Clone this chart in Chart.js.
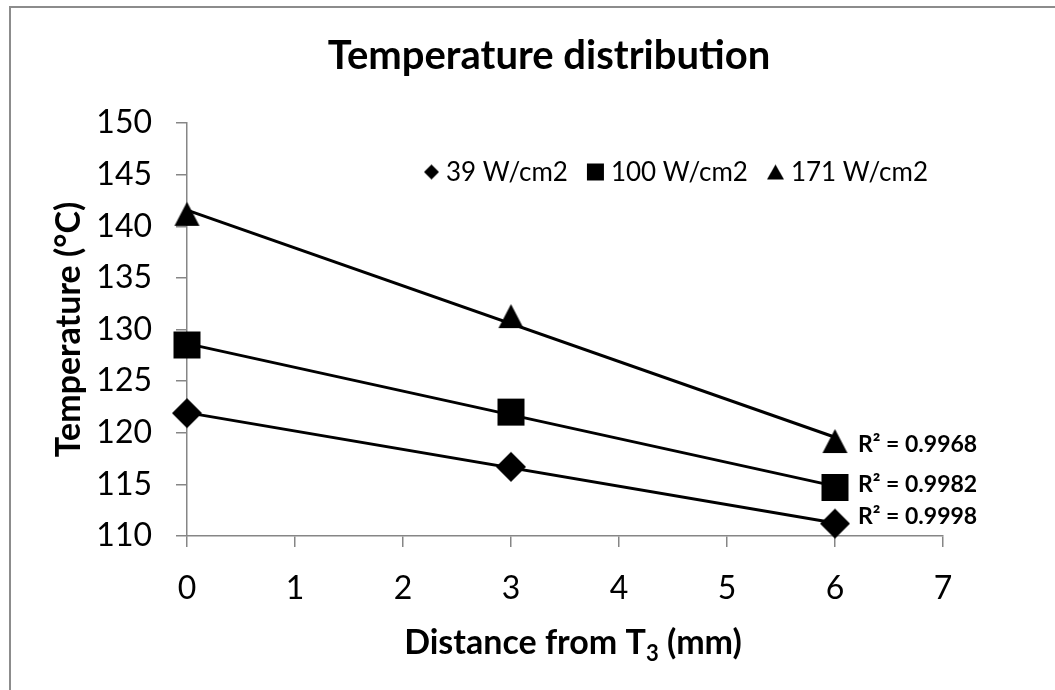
<!DOCTYPE html>
<html>
<head>
<meta charset="utf-8">
<script src="https://cdn.jsdelivr.net/npm/chart.js@4.4.1/dist/chart.umd.min.js"></script>
<style>
  html, body { margin: 0; padding: 0; background: #fff; }
  #box { width: 1055px; height: 690px; }
</style>
</head>
<body>
<div id="box"><canvas id="grafico" width="1055" height="690"></canvas></div>
<script>
const distancias = [0, 3, 6];
const nomesSeries = ["39 W/cm2", "100 W/cm2", "171 W/cm2"];
const temp39 = [121.9, 116.7, 111.2];
const temp100 = [128.5, 122.0, 114.7];
const temp171 = [141.2, 131.3, 119.2];
const textosR2 = ["0.9998", "0.9982", "0.9968"];
const ticksX = [0, 1, 2, 3, 4, 5, 6, 7];
const ticksY = [110, 115, 120, 125, 130, 135, 140, 145, 150];

const FONTE = "Lato";
const CINZA = "#868686";

// Ajuste linear (mínimos quadrados) para a linha de tendência
function ajusteLinear(xs, ys) {
    const n = xs.length;
    let somaX = 0, somaY = 0, somaXY = 0, somaX2 = 0;
    for (let i = 0; i < n; i++) {
        somaX += xs[i];
        somaY += ys[i];
        somaXY += xs[i] * ys[i];
        somaX2 += xs[i] ** 2;
    }
    const b1 = (n * somaXY - somaX * somaY) / (n * somaX2 - somaX ** 2);
    const b0 = (somaY - b1 * somaX) / n;
    return x => b0 + b1 * x;
}

// Marcadores desenhados num canvas pequeno (centrados no ponto)
function marcador(tipo, w, h) {
    const c = document.createElement("canvas");
    c.width = Math.ceil(w) + 2;
    c.height = Math.ceil(h) + 2;
    const g = c.getContext("2d");
    const cx = c.width / 2, cy = c.height / 2;
    g.fillStyle = "#000";
    g.beginPath();
    if (tipo === "losango") {
        g.moveTo(cx, cy - h / 2); g.lineTo(cx + w / 2, cy);
        g.lineTo(cx, cy + h / 2); g.lineTo(cx - w / 2, cy);
    } else if (tipo === "quadrado") {
        g.rect(cx - w / 2, cy - h / 2, w, h);
    } else {
        g.moveTo(cx, cy - h / 2); g.lineTo(cx + w / 2, cy + h / 2);
        g.lineTo(cx - w / 2, cy + h / 2);
    }
    g.closePath();
    g.fill();
    return c;
}

const seriesY = [temp39, temp100, temp171];
const pontos = [marcador("losango", 30, 30), marcador("quadrado", 27, 27), marcador("triangulo", 25, 24)];
const pontosLegenda = [marcador("losango", 15, 15), marcador("quadrado", 17, 17), marcador("triangulo", 17, 15)];

const datasets = [];
seriesY.forEach((ys, i) => {
    datasets.push({
        label: nomesSeries[i],
        data: distancias.map((x, k) => ({ x, y: ys[k] })),
        pointStyle: pontos[i],
        showLine: false,
        clip: false,
        order: 0
    });
});
seriesY.forEach((ys, i) => {
    const f = ajusteLinear(distancias, ys);
    const x0 = distancias[0], x1 = distancias[distancias.length - 1];
    datasets.push({
        label: "tendencia " + nomesSeries[i],
        type: "line",
        data: [{ x: x0, y: f(x0) }, { x: x1, y: f(x1) }],
        borderColor: "#000",
        borderWidth: 3,
        pointRadius: 0,
        fill: false,
        clip: false,
        order: 1
    });
});

// Moldura, título, legenda, título do eixo X e rótulos de R²
const extras = {
    id: "extras",
    beforeDraw(chart) {
        const ctx = chart.ctx;
        ctx.save();
        ctx.fillStyle = "#fff";
        ctx.fillRect(0, 0, chart.width, chart.height);
        ctx.strokeStyle = "#8c8c8c";
        ctx.lineWidth = 2;
        ctx.beginPath();
        ctx.moveTo(10, chart.height);
        ctx.lineTo(10, 7);
        ctx.lineTo(chart.width, 7);
        ctx.stroke();
        ctx.restore();
    },
    afterDraw(chart) {
        const ctx = chart.ctx;
        const area = chart.chartArea;
        ctx.save();
        ctx.fillStyle = "#000";
        ctx.textBaseline = "middle";

        // título
        ctx.font = `bold 40px ${FONTE}`;
        ctx.textAlign = "center";
        ctx.fillText("Temperature distribution", 549, 56);

        // título do eixo X com índice 3
        ctx.font = `bold 34px ${FONTE}`;
        const parte1 = "Distance from T", parte3 = " (mm)";
        const w1 = ctx.measureText(parte1).width;
        const w3 = ctx.measureText(parte3).width;
        ctx.font = `bold 22px ${FONTE}`;
        const w2 = ctx.measureText("3").width;
        const total = w1 + w2 + w3;
        let x = (area.left + area.right) / 2 + 8 - total / 2;
        const yTitulo = 643;
        ctx.textAlign = "left";
        ctx.font = `bold 34px ${FONTE}`;
        ctx.fillText(parte1, x, yTitulo);
        ctx.font = `bold 22px ${FONTE}`;
        ctx.fillText("3", x + w1, yTitulo + 11);
        ctx.font = `bold 34px ${FONTE}`;
        ctx.fillText(parte3, x + w1 + w2, yTitulo);

        // legenda
        ctx.font = `26px ${FONTE}`;
        const gapMarcador = 6, gapItem = 18;
        let larguraTotal = 0;
        nomesSeries.forEach((nome, i) => {
            larguraTotal += pontosLegenda[i].width + gapMarcador + ctx.measureText(nome).width;
        });
        larguraTotal += gapItem * (nomesSeries.length - 1);
        let lx = 928 - larguraTotal;
        const ly = 172;
        nomesSeries.forEach((nome, i) => {
            const m = pontosLegenda[i];
            ctx.drawImage(m, lx, ly - m.height / 2);
            lx += m.width + gapMarcador;
            ctx.fillText(nome, lx, ly + 1);
            lx += ctx.measureText(nome).width + gapItem;
        });

        // rótulos de R² junto ao último ponto de cada série
        const deslocY = [-7, -3, 4];
        ctx.font = `bold 23px ${FONTE}`;
        seriesY.forEach((ys, i) => {
            const meta = chart.getDatasetMeta(i);
            const p = meta.data[meta.data.length - 1];
            ctx.fillText("R² = " + textosR2[i], p.x + 23, p.y + deslocY[i]);
        });
        ctx.restore();
    }
};

const ctx = document.getElementById("grafico").getContext("2d");
const chart = new Chart(ctx, {
    type: "scatter",
    data: { datasets },
    options: {
        responsive: false,
        animation: false,
        layout: { padding: { top: 123, right: 112, bottom: 0, left: 35 } },
        plugins: {
            legend: { display: false },
            tooltip: { enabled: false },
            title: { display: false }
        },
        scales: {
            x: {
                type: "linear",
                min: ticksX[0],
                max: ticksX[ticksX.length - 1],
                ticks: { stepSize: 1, color: "#000", font: { family: FONTE, size: 32 }, padding: 22 },
                grid: { drawOnChartArea: false, tickLength: 11, color: CINZA, lineWidth: 1.5 },
                border: { color: CINZA, width: 1.5 },
                afterFit(s) { s.height = 154; }
            },
            y: {
                type: "linear",
                min: ticksY[0],
                max: ticksY[ticksY.length - 1],
                ticks: { stepSize: 5, color: "#000", font: { family: FONTE, size: 32 }, padding: 24 },
                grid: { drawOnChartArea: false, tickLength: 11, color: CINZA, lineWidth: 1.5 },
                border: { color: CINZA, width: 1.5 },
                title: {
                    display: true,
                    text: "Temperature (°C)",
                    color: "#000",
                    font: { family: FONTE, size: 34, weight: "bold" },
                    padding: { top: 14, bottom: 0 }
                },
                afterFit(s) { s.width = 152; }
            }
        }
    },
    plugins: [extras]
});
</script>
</body>
</html>
